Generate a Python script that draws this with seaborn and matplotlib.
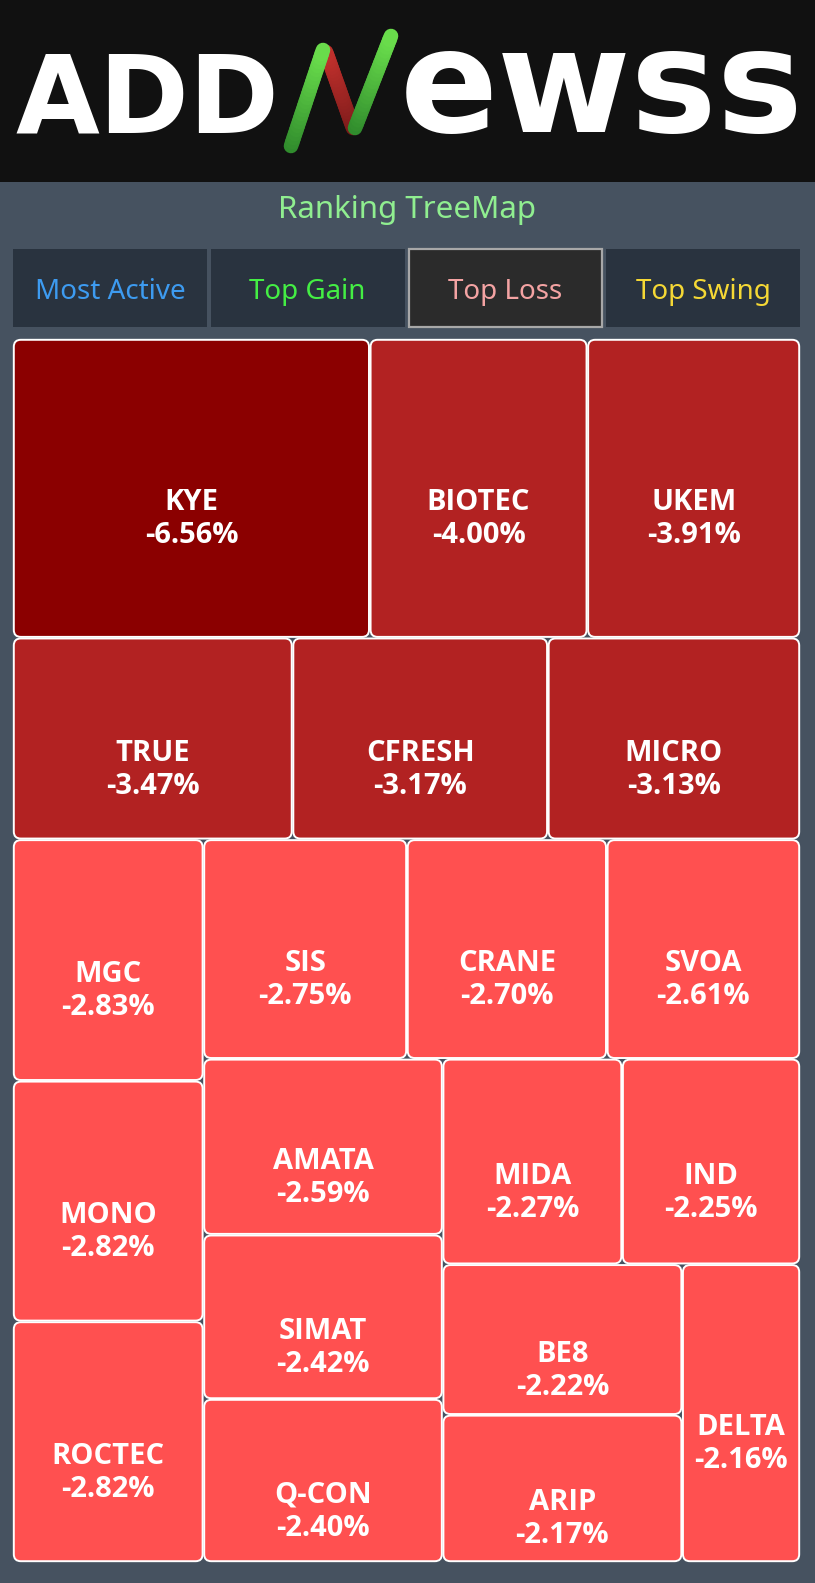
import matplotlib
matplotlib.use("Agg")
import numpy as np
import pandas as pd
import seaborn as sns
import matplotlib.pyplot as plt
from matplotlib.patches import FancyBboxPatch, Rectangle
from matplotlib.colors import to_rgb

# ---------------- data ----------------
symbols = ["KYE", "BIOTEC", "UKEM", "TRUE", "CFRESH", "MICRO", "MGC", "MONO",
           "ROCTEC", "SIS", "CRANE", "SVOA", "AMATA", "SIMAT", "Q-CON", "MIDA",
           "IND", "BE8", "ARIP", "DELTA"]
changes = [-6.56, -4.00, -3.91, -3.47, -3.17, -3.13, -2.83, -2.82,
           -2.82, -2.75, -2.70, -2.61, -2.59, -2.42, -2.40, -2.27,
           -2.25, -2.22, -2.17, -2.16]
tab_labels = ["Most Active", "Top Gain", "Top Loss", "Top Swing"]
tab_text_colors = ["#3d9bf0", "#44ee44", "#f4a3a3", "#f5d835"]
selected_tab = "Top Loss"
title = "Ranking TreeMap"

df = pd.DataFrame({"symbol": symbols, "change": changes})
df["size"] = df["change"].abs()

# ---------------- style ----------------
W, H = 815, 1583
BG = "#465260"
BANNER = "#111111"
TAB_BG = "#29333f"
sns.set_theme(style="dark", rc={"figure.facecolor": BG, "axes.facecolor": BG})
plt.rcParams["font.family"] = ["Noto Sans", "DejaVu Sans"]
LABEL_FONT = ["Open Sans", "Roboto", "DejaVu Sans"]


def cell_color(v):
    if v <= -5:
        return "#8b0000"
    if v <= -3:
        return "#b22222"
    return "#ff5050"


def squarify(values, x0, y0, x1, y1, ratio=1.0):
    rects = []
    n = len(values)
    i0 = i1 = 0
    value = float(sum(values))
    while i0 < n:
        dx, dy = x1 - x0, y1 - y0
        sumv = values[i1]
        i1 += 1
        minv = maxv = sumv
        alpha = max(dy / dx, dx / dy) / (value * ratio)
        beta = sumv * sumv * alpha
        minratio = max(maxv / beta, beta / minv)
        while i1 < n:
            nv = values[i1]
            sumv += nv
            minv = min(minv, nv)
            maxv = max(maxv, nv)
            beta = sumv * sumv * alpha
            newratio = max(maxv / beta, beta / minv)
            if newratio > minratio:
                sumv -= nv
                break
            minratio = newratio
            i1 += 1
        row = values[i0:i1]
        if dx < dy:
            h = dy * sumv / value
            xx = x0
            for v in row:
                w = dx * v / sumv
                rects.append((xx, y0, w, h))
                xx += w
            y0 += h
        else:
            w = dx * sumv / value
            yy = y0
            for v in row:
                hh = dy * v / sumv
                rects.append((x0, yy, w, hh))
                yy += hh
            x0 += w
        value -= sumv
        i0 = i1
    return rects


def gradient_stroke(ax, p_bottom, p_top, c_bottom, c_top, lw, z, steps=24):
    cb, ct = np.array(to_rgb(c_bottom)), np.array(to_rgb(c_top))
    for k in range(steps):
        t0, t1 = k / steps, (k + 1) / steps
        xa = p_bottom[0] + (p_top[0] - p_bottom[0]) * t0
        ya = p_bottom[1] + (p_top[1] - p_bottom[1]) * t0
        xb = p_bottom[0] + (p_top[0] - p_bottom[0]) * t1
        yb = p_bottom[1] + (p_top[1] - p_bottom[1]) * t1
        c = cb + (ct - cb) * (t0 + t1) / 2
        ax.plot([xa, xb], [ya, yb], color=c, lw=lw, solid_capstyle="round", zorder=z)


fig = plt.figure(figsize=(W / 100, H / 100), dpi=100)
ax = fig.add_axes([0, 0, 1, 1])
ax.set_xlim(0, W)
ax.set_ylim(H, 0)
ax.axis("off")

# ---------------- banner / logo ----------------
ax.add_patch(Rectangle((0, 0), W, 182, facecolor=BANNER, edgecolor="none", zorder=0))
ax.text(15, 132, "ADD", color="white", fontsize=78, fontweight="bold",
        family="DejaVu Sans", ha="left", va="baseline", zorder=3)
ax.text(400, 132, "ewss", color="white", fontsize=104, fontweight="bold",
        family="DejaVu Sans", ha="left", va="baseline", zorder=3)
gradient_stroke(ax, (353, 128), (326, 52), "#7a1a1a", "#c0302c", 10.5, 2)
gradient_stroke(ax, (291, 146), (323, 50), "#2f8a2c", "#6ade4c", 10.5, 3)
gradient_stroke(ax, (355, 128), (391, 36), "#2f8a2c", "#6ade4c", 10.5, 3)

# ---------------- title and tabs ----------------
ax.text(W / 2, 218, title, color="#90ee90", fontsize=22.5, ha="center", va="baseline")

tx0, tx1, ty0, ty1, gap = 13, 800, 249, 327, 4
tw = (tx1 - tx0 - 3 * gap) / 4
for i, (lab, col) in enumerate(zip(tab_labels, tab_text_colors)):
    x = tx0 + i * (tw + gap)
    sel = lab == selected_tab
    ax.add_patch(Rectangle((x, ty0), tw, ty1 - ty0,
                           facecolor="#2b2b2b" if sel else TAB_BG,
                           edgecolor="#a8a8a8" if sel else "none",
                           lw=1.6 if sel else 0, zorder=1))
    ax.text(x + tw / 2, (ty0 + ty1) / 2 + 11, lab, color=col, fontsize=20,
            ha="center", va="baseline", zorder=2)

# ---------------- treemap ----------------
mx0, my0, mx1, my1 = 13, 339, 800, 1562
rects = squarify(list(df["size"]), mx0, my0, mx1, my1)
inset = 0.8
for (x, y, w, h), sym, ch in zip(rects, df["symbol"], df["change"]):
    ax.add_patch(FancyBboxPatch((x + inset, y + inset), w - 2 * inset, h - 2 * inset,
                                boxstyle="round,pad=0,rounding_size=7",
                                facecolor=cell_color(ch), edgecolor="white",
                                lw=1.4, zorder=2))
    cx, cy = x + w / 2, y + h / 2
    ax.text(cx, cy + 22, sym, color="white", fontsize=21, fontweight="bold",
            family=LABEL_FONT, ha="center", va="baseline", zorder=3)
    ax.text(cx, cy + 55, f"{ch:.2f}%", color="white", fontsize=21, fontweight="bold",
            family=LABEL_FONT, ha="center", va="baseline", zorder=3)

fig.savefig("out.png", dpi=100, facecolor=BG)
